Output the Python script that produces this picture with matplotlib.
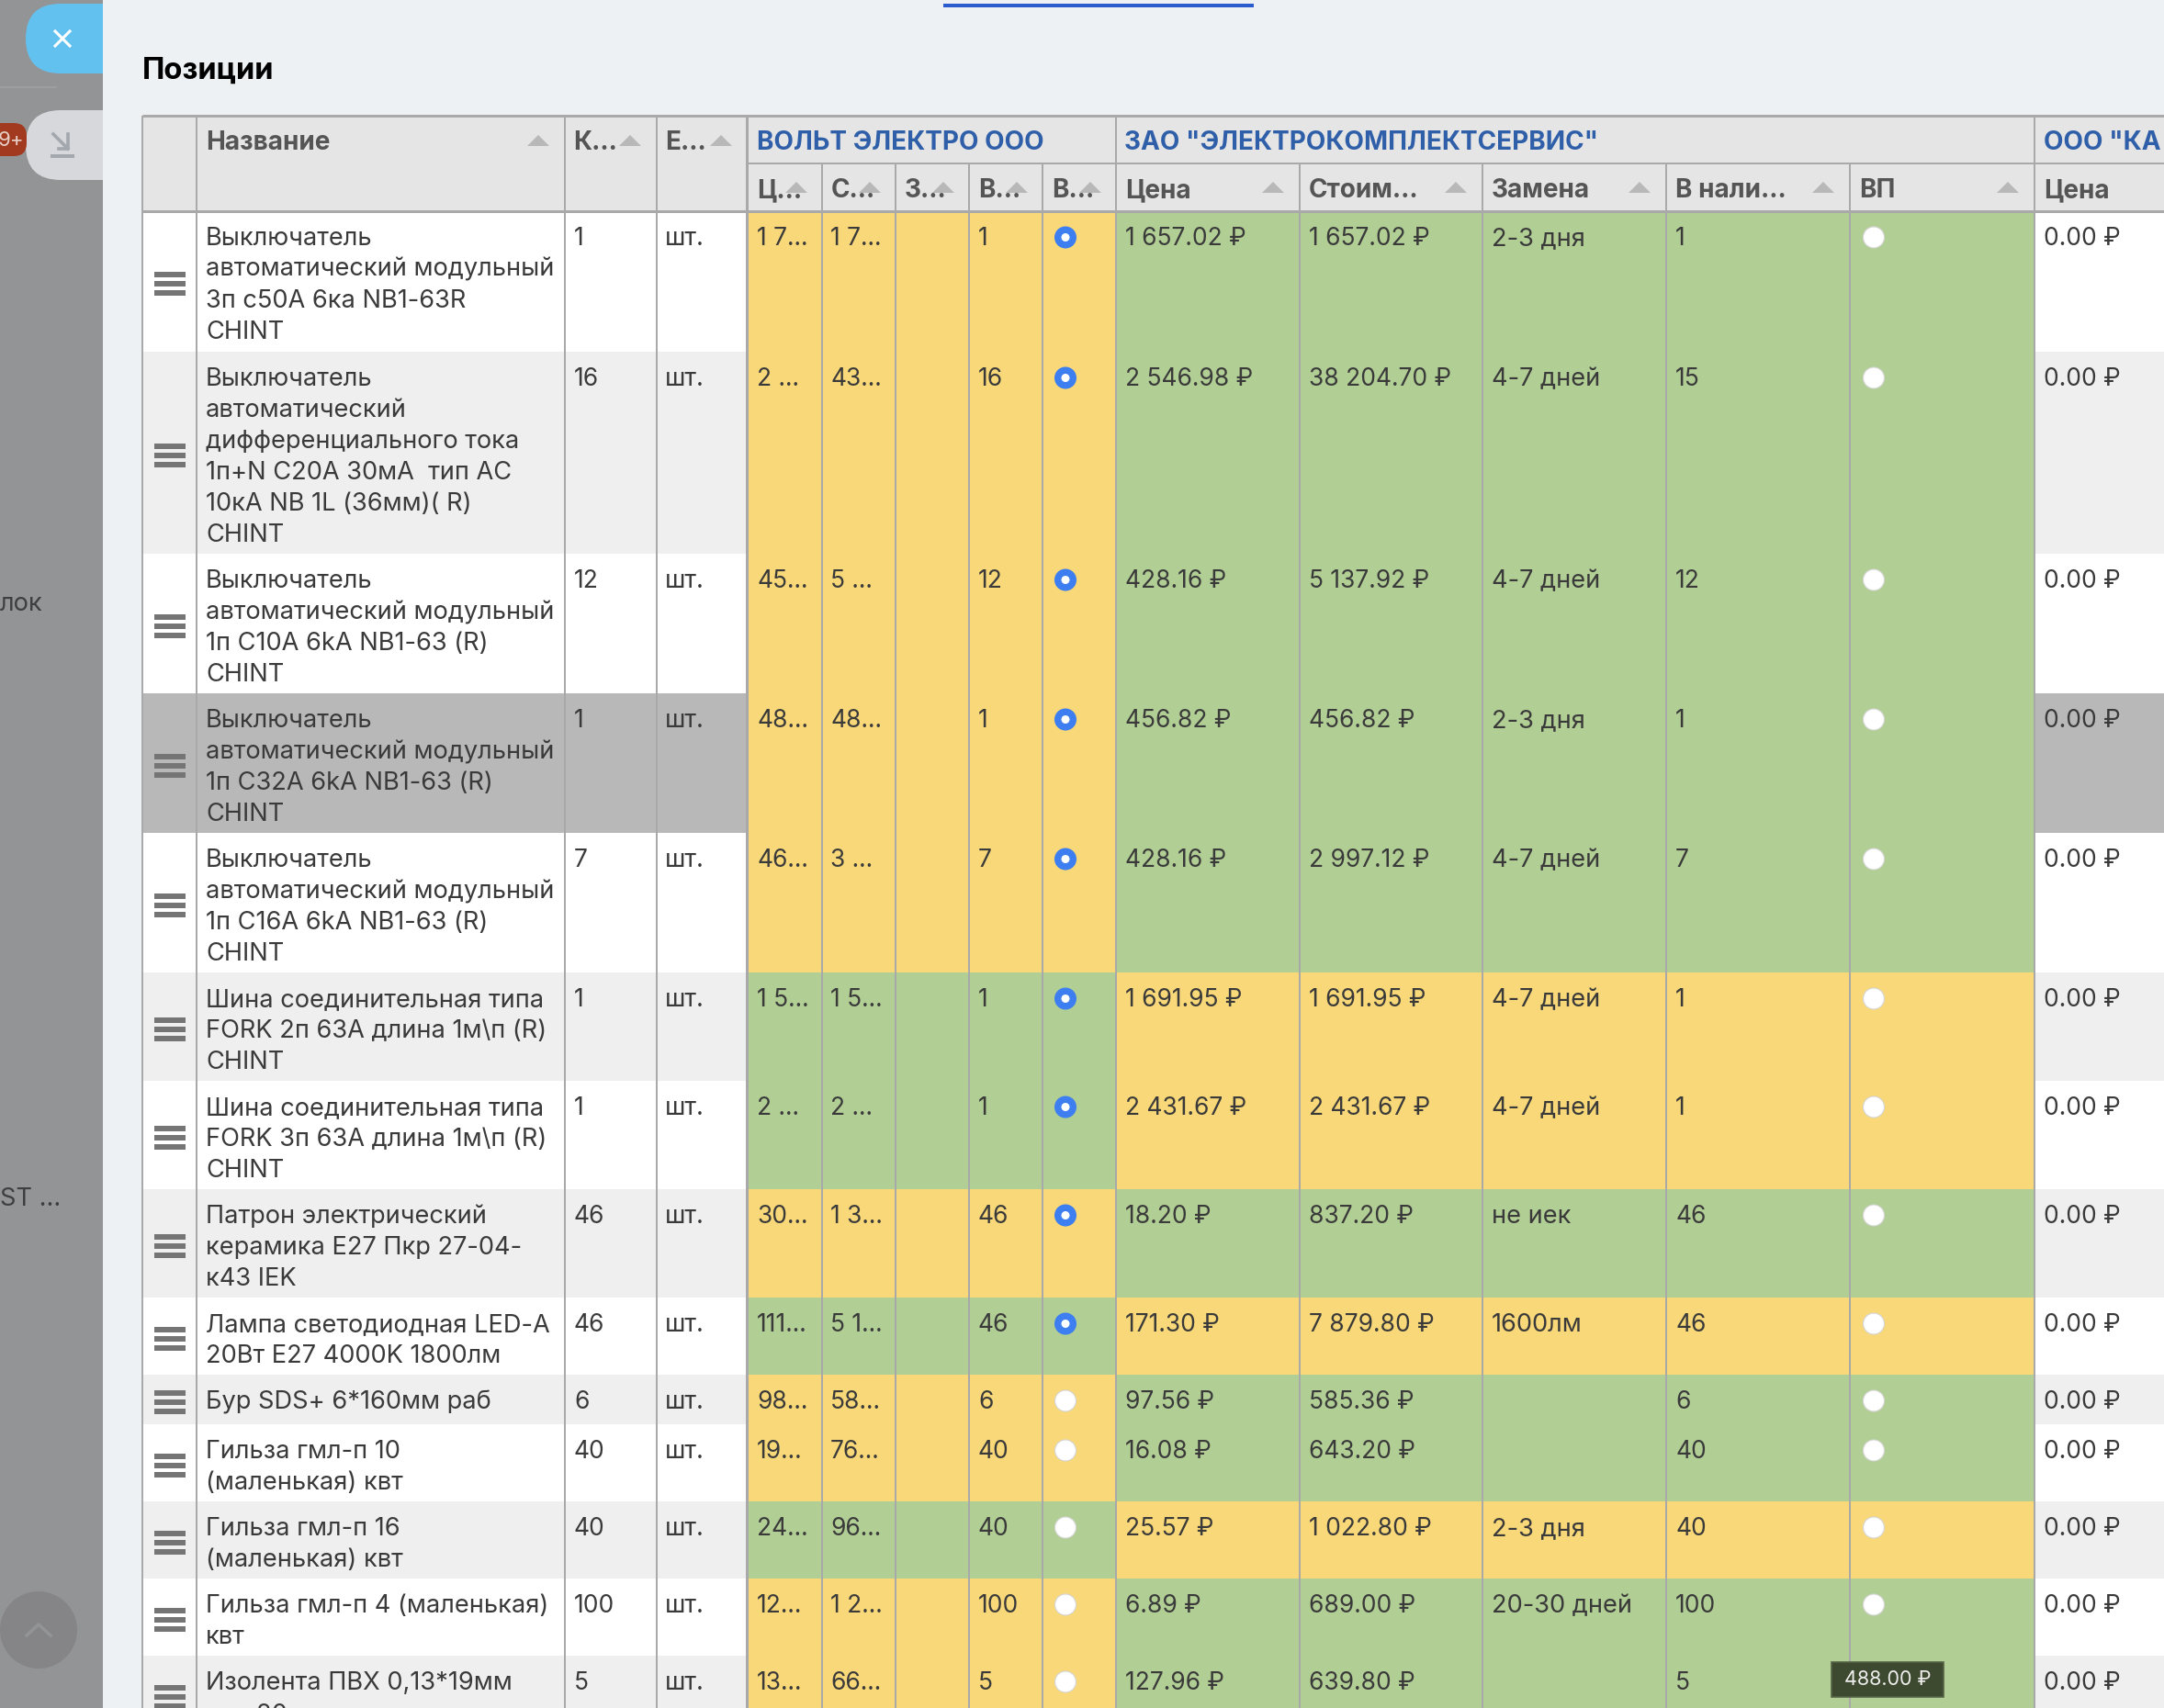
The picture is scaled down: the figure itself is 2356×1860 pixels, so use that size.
import matplotlib
matplotlib.use("Agg")
import matplotlib.pyplot as plt
from matplotlib.patches import Rectangle, FancyBboxPatch, Ellipse

plt.rcParams['font.family'] = ['Inter', 'Noto Sans', 'DejaVu Sans']

# Данные таблицы
names = [
    "Выключатель\nавтоматический модульный\n3п с50А 6ка NB1-63R\nCHINT",
    "Выключатель\nавтоматический\nдифференциального тока\n1п+N C20A 30мА  тип АС\n10кА NB 1L (36мм)( R)\nCHINT",
    "Выключатель\nавтоматический модульный\n1п C10A 6kA NB1-63 (R)\nCHINT",
    "Выключатель\nавтоматический модульный\n1п C32A 6kA NB1-63 (R)\nCHINT",
    "Выключатель\nавтоматический модульный\n1п C16A 6kA NB1-63 (R)\nCHINT",
    "Шина соединительная типа\nFORK 2п 63А длина 1м\\п (R)\nCHINT",
    "Шина соединительная типа\nFORK 3п 63А длина 1м\\п (R)\nCHINT",
    "Патрон электрический\nкерамика Е27 Пкр 27-04-\nк43 IEK",
    "Лампа светодиодная LED-A\n20Вт E27 4000K 1800лм",
    "Бур SDS+ 6*160мм раб",
    "Гильза гмл-п 10\n(маленькая) квт",
    "Гильза гмл-п 16\n(маленькая) квт",
    "Гильза гмл-п 4 (маленькая)\nквт",
    "Изолента ПВХ 0,13*19мм\nрул 20м черная",
]
qty = ["1", "16", "12", "1", "7", "1", "1", "46", "46", "6", "40", "40", "100", "5"]
unit = "шт."

s1_price = ["1 7...", "2 ...", "45...", "48...", "46...", "1 5...", "2 ...", "30...", "111...", "98...", "19...", "24...", "12...", "13..."]
s1_cost = ["1 7...", "43...", "5 ...", "48...", "3 ...", "1 5...", "2 ...", "1 3...", "5 1...", "58...", "76...", "96...", "1 2...", "66..."]
s1_stock = qty
s1_checked = [True] * 9 + [False] * 5
s1_best = [0, 0, 0, 0, 0, 1, 1, 0, 1, 0, 0, 1, 0, 0]  # 1 - зеленый

s2_price = ["1 657.02 ₽", "2 546.98 ₽", "428.16 ₽", "456.82 ₽", "428.16 ₽", "1 691.95 ₽", "2 431.67 ₽",
            "18.20 ₽", "171.30 ₽", "97.56 ₽", "16.08 ₽", "25.57 ₽", "6.89 ₽", "127.96 ₽"]
s2_cost = ["1 657.02 ₽", "38 204.70 ₽", "5 137.92 ₽", "456.82 ₽", "2 997.12 ₽", "1 691.95 ₽", "2 431.67 ₽",
           "837.20 ₽", "7 879.80 ₽", "585.36 ₽", "643.20 ₽", "1 022.80 ₽", "689.00 ₽", "639.80 ₽"]
s2_swap = ["2-3 дня", "4-7 дней", "4-7 дней", "2-3 дня", "4-7 дней", "4-7 дней", "4-7 дней",
           "не иек", "1600лм", "", "", "2-3 дня", "20-30 дней", ""]
s2_stock = ["1", "15", "12", "1", "7", "1", "1", "46", "46", "6", "40", "40", "100", "5"]
s3_price = ["0.00 ₽"] * 14

sub1_heads = ["Ц...", "С...", "З...", "В...", "В..."]
sub2_heads = ["Цена", "Стоим...", "Замена", "В нали...", "ВП"]

# Разметка в пикселях
W, H = 2356, 1860
col_x = [155, 214, 615, 715, 814, 895, 975, 1055, 1135, 1215, 1415, 1614, 1814, 2014, 2215, 2356]
row_h = [153, 220, 152, 152, 152, 118, 118, 118, 84, 54, 84, 84, 84, 84]
top_y, mid_y, head_y = 126, 178, 230
line_h = 34
fs = 19.6      # названия и прочий текст
fs_num = 19.0  # цифры в этом шрифте шире
fs_head = 20.1
dark = "#3a3a3a"
head_c = "#555555"
blue = "#2f5fa8"
line_c = "#a9a9a9"
tri_c = "#b8b8b8"
yellow = "#f8d878"
green = "#b1ce94"

fig = plt.figure(figsize=(W / 100, H / 100), dpi=100)
ax = fig.add_axes([0, 0, 1, 1])
ax.set_xlim(0, W)
ax.set_ylim(H, 0)
ax.axis("off")


def box(x0, y0, x1, y1, c, z=1):
    ax.add_patch(Rectangle((x0, y0), x1 - x0, y1 - y0, fc=c, ec="none", zorder=z))


def line(x0, y0, x1, y1, px=2, c=line_c, z=4):
    ax.plot([x0, x1], [y0, y1], color=c, lw=px * 0.72, solid_capstyle="butt", zorder=z)


def tri(x_right, y_top):
    ax.fill([x_right - 24, x_right, x_right - 12], [y_top + 12, y_top + 12, y_top], color=tri_c, lw=0, zorder=6)


def txt(x, y, s, **kw):
    kw.setdefault("color", dark)
    kw.setdefault("fontsize", fs)
    ax.text(x, y, s, va="baseline", ha="left", zorder=5, **kw)


def head(x, y, s, c=head_c):
    txt(x, y, s, color=c, fontsize=fs_head, fontweight="bold")


def radio(x, y, on):
    if on:
        ax.add_patch(Ellipse((x, y), 24, 24, fc="#3d7ff0", ec="none", zorder=5))
        ax.add_patch(Ellipse((x, y), 9, 9, fc="white", ec="none", zorder=6))
    else:
        ax.add_patch(Ellipse((x, y), 23, 23, fc="white", ec="#d5d5d5", lw=0.8, zorder=5))


# Фон: серая полоса слева и панель
box(0, 0, W, H, "#939496", 0)
ax.add_patch(FancyBboxPatch((28 + 38, 4 + 38), 100, 0, boxstyle="round,pad=38,rounding_size=38",
                            fc="#63c1f0", ec="none", zorder=1, mutation_aspect=1))
ax.add_patch(FancyBboxPatch((28 + 38, 120 + 38), 100, 0, boxstyle="round,pad=38,rounding_size=38",
                            fc="#d6d8dc", ec="none", zorder=1, mutation_aspect=1))
box(112, 0, W, H, "#edf1f4", 2)
line(0, 95, 62, 95, 2, "#9d9ea0", 1)
line(1027, 6, 1365, 6, 4, "#2b5bcc", 3)

# Кнопки слева
ax.plot([60, 76], [34, 50], color="white", lw=2.2, zorder=3)
ax.plot([76, 60], [34, 50], color="white", lw=2.2, zorder=3)
ax.plot([58, 74], [146, 162], color="#a3a7ae", lw=2.6, zorder=3)
ax.plot([74, 74, 64], [146, 162, 162], color="#a3a7ae", lw=2.6, zorder=3)
line(55, 170, 81, 170, 4, "#a3a7ae", 3)
ax.add_patch(FancyBboxPatch((-30, 134), 59, 36, boxstyle="round,pad=0,rounding_size=14",
                            fc="#a13a1e", ec="none", zorder=3))
ax.text(12, 153, "9+", color="#e8d0c8", fontsize=16, ha="center", va="center", zorder=4)
ax.text(0, 665, "лок", color="#3e3f40", fontsize=fs, va="baseline", zorder=1)
ax.text(0, 1313, "ST ...", color="#3e3f40", fontsize=fs, va="baseline", zorder=1)
ax.add_patch(Ellipse((42, 1775), 84, 84, fc="#858587", ec="none", zorder=1))
ax.plot([29, 42, 55], [1781, 1769, 1781], color="#939496", lw=2.6, zorder=1.5)

txt(155, 86, "Позиции", color="black", fontsize=23.5, fontweight="bold")

# Шапка таблицы
box(155, top_y, W, head_y, "#e5e5e5", 2)
head(224, 163, "Название")
head(624, 163, "К...")
head(724, 163, "Е...")
tri(598, 147)
tri(698, 147)
tri(797, 147)
head(824, 163, "ВОЛЬТ ЭЛЕКТРО ООО", blue)
head(1224, 163, 'ЗАО "ЭЛЕКТРОКОМПЛЕКТСЕРВИС"', blue)
head(2225, 163, 'ООО "КА', blue)
for i, h in enumerate(sub1_heads + sub2_heads):
    x0, x1 = col_x[4 + i], col_x[5 + i]
    head(x0 + 10, 215, h)
    tri(x1 - (-1 if i < 5 else 17) - (17 if i < 5 else 0), 198)
head(2225, 215, "Цена")

# Строки таблицы
y = head_y
for i, h in enumerate(row_h):
    bg = "#ffffff" if i % 2 == 0 else "#efefef"
    if i == 3:
        bg = "#b8b8b8"
    box(155, y, W, y + h, bg, 2)
    c1, c2 = (green, yellow) if s1_best[i] else (yellow, green)
    box(col_x[4], y, col_x[9], y + h, c1, 3)
    box(col_x[9], y, col_x[14], y + h, c2, 3)

    # иконка перетаскивания
    cy = y + h / 2 + 2.5
    for dy in (-10, 0, 10):
        box(168, cy + dy - 3, 202, cy + dy + 3, "#757575", 5)

    base = y + 37
    for k, part in enumerate(names[i].split("\n")):
        txt(224, base + k * line_h, part)
    txt(625, base, qty[i], fontsize=fs_num)
    txt(724, base, unit)

    txt(col_x[4] + 10, base, s1_price[i], fontsize=fs_num)
    txt(col_x[5] + 9, base, s1_cost[i], fontsize=fs_num)
    txt(col_x[7] + 10, base, s1_stock[i], fontsize=fs_num)
    radio(1160, y + 28.5, s1_checked[i])

    txt(col_x[9] + 10, base, s2_price[i], fontsize=fs_num)
    txt(col_x[10] + 10, base, s2_cost[i], fontsize=fs_num)
    txt(col_x[11] + 10, base, s2_swap[i])
    txt(col_x[12] + 10, base, s2_stock[i], fontsize=fs_num)
    radio(2040, y + 28.5, False)

    txt(col_x[14] + 10, base, s3_price[i], fontsize=fs_num)
    y += h

# Линии сетки
line(155, top_y, W, top_y, 3)
line(155, head_y, W, head_y, 3)
line(814, mid_y, W, mid_y, 2)
line(155, top_y, 155, H, 2)
for x in col_x[1:4]:
    line(x, top_y, x, H, 2)
line(813, top_y, 813, H, 3)
line(1215, top_y, 1215, H, 2)
line(2215, top_y, 2215, H, 2)
for x in col_x[5:9] + col_x[10:14]:
    line(x, mid_y, x, H, 2)

# Всплывающая подсказка
ax.add_patch(Rectangle((1994, 1810), 122, 38, fc="#3e4a2f", ec="#566347", lw=1.2, zorder=8))
ax.text(2055, 1829, "488.00 ₽", color="#eeeeee", fontsize=15.5, ha="center", va="center", zorder=9)

fig.savefig("out.png", dpi=100)
